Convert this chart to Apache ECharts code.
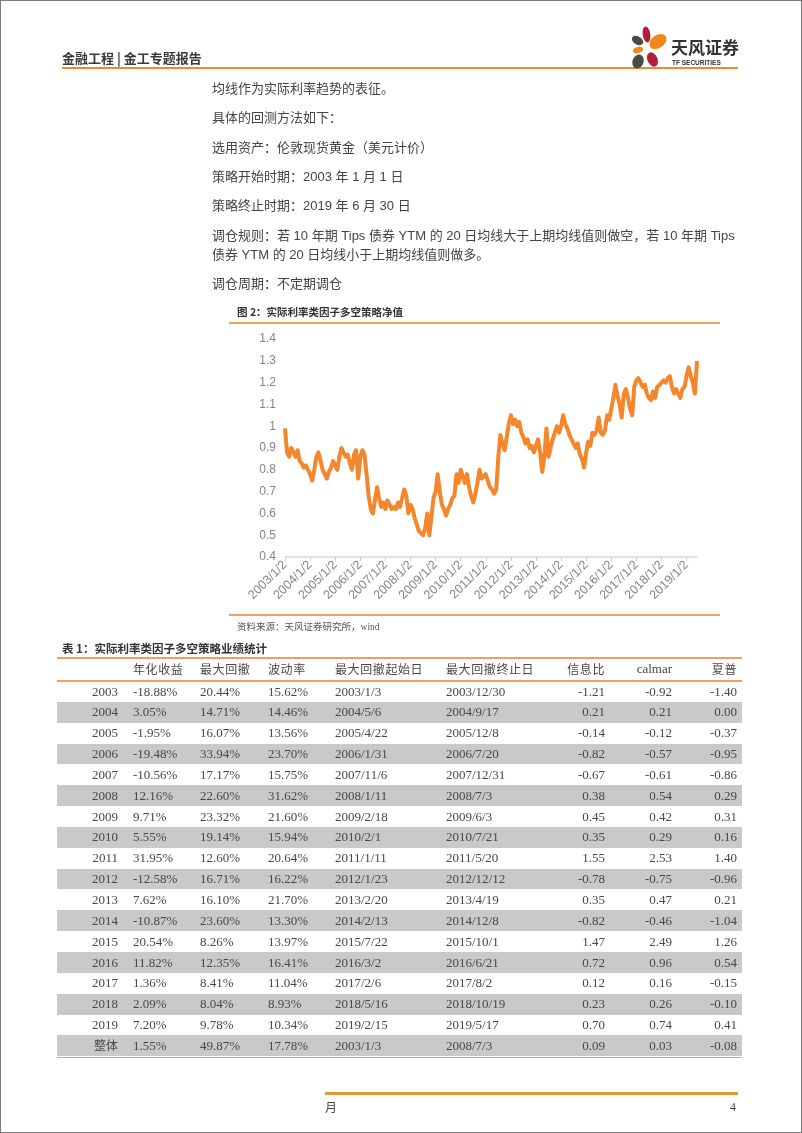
<!DOCTYPE html>
<html><head><meta charset="utf-8">
<script src="https://cdn.jsdelivr.net/npm/echarts@6/dist/echarts.min.js"></script>
<style>
html,body{margin:0;padding:0;background:#fff;}
#page{position:relative;width:802px;height:1133px;overflow:hidden;font-family:"Noto Sans CJK SC","Noto Sans",sans-serif;color:#404040;}
.abs{position:absolute;white-space:nowrap;}
.body{font-size:13px;line-height:18px;color:#444;left:212px;font-family:"Liberation Sans","Noto Sans CJK SC",sans-serif;}
.cell{position:absolute;white-space:nowrap;font-family:"Liberation Serif","Noto Sans CJK SC",serif;font-size:13px;color:#474747;line-height:20px;}
</style></head><body>
<div id="page">
<div id="chart" style="position:absolute;left:0;top:0;width:802px;height:1133px;"></div>
<div class="abs" style="left:0;top:0;width:800px;height:1131px;border:1px solid #7a7a7a;"></div>

<div class="abs" style="left:62px;top:49px;font-size:13px;font-weight:bold;color:#3a3a3a;line-height:18px;">金融工程 | 金工专题报告</div>
<div class="abs" style="left:62px;top:67px;width:676px;height:2px;background:#E98B2F;"></div>
<svg class="abs" style="left:0;top:0" width="802" height="80">
 <ellipse cx="646.5" cy="34.5" rx="3.8" ry="8" transform="rotate(-8 646.5 34.5)" fill="#B01E3C"/>
 <ellipse cx="637.5" cy="40.5" rx="6.2" ry="4" transform="rotate(30 637.5 40.5)" fill="#4a4a4a"/>
 <ellipse cx="658" cy="41.5" rx="9.5" ry="6.5" transform="rotate(-35 658 41.5)" fill="#F0891C"/>
 <ellipse cx="638" cy="50" rx="5.2" ry="3.2" transform="rotate(-15 638 50)" fill="#F0891C"/>
 <ellipse cx="638" cy="61.5" rx="5.5" ry="7.2" transform="rotate(20 638 61.5)" fill="#4a4a4a"/>
 <ellipse cx="652.5" cy="59.5" rx="5" ry="7.5" transform="rotate(-25 652.5 59.5)" fill="#B01E3C"/>
</svg>
<div class="abs" style="left:671px;top:36px;font-size:17px;font-weight:bold;color:#333;line-height:22px;">天风证券</div>
<div class="abs" style="left:672px;top:59px;font-size:6.5px;font-weight:bold;color:#333;line-height:8px;font-family:'Liberation Sans',sans-serif;">TF SECURITIES</div>

<div class="abs body" style="top:80px;">均线作为实际利率趋势的表征。</div>
<div class="abs body" style="top:109px;">具体的回测方法如下：</div>
<div class="abs body" style="top:139px;">选用资产：伦敦现货黄金（美元计价）</div>
<div class="abs body" style="top:168px;">策略开始时期：2003 年 1 月 1 日</div>
<div class="abs body" style="top:197px;">策略终止时期：2019 年 6 月 30 日</div>
<div class="abs body" style="top:227px;">调仓规则：若 10 年期 Tips 债券 YTM 的 20 日均线大于上期均线值则做空，若 10 年期 Tips</div>
<div class="abs body" style="top:246px;">债券 YTM 的 20 日均线小于上期均线值则做多。</div>
<div class="abs body" style="top:275px;">调仓周期：不定期调仓</div>

<div class="abs" style="left:237px;top:304px;font-size:10.5px;font-weight:bold;color:#333;line-height:16px;">图 2：实际利率类因子多空策略净值</div>
<div class="abs" style="left:229px;top:322px;width:491px;height:1.5px;background:#F2A05A;"></div>
<div class="abs" style="left:229px;top:614px;width:491px;height:1.5px;background:#F2A05A;"></div>
<div class="abs" style="left:237px;top:619px;font-size:9.5px;color:#555;line-height:14px;">资料来源：天风证券研究所，<span style="font-family:'Liberation Serif',serif">wind</span></div>

<div class="abs" style="left:62px;top:640px;font-size:11.5px;font-weight:bold;color:#333;line-height:16px;">表 1：实际利率类因子多空策略业绩统计</div>
<div id="table"></div>

<div class="abs" style="left:325px;top:1092px;width:413px;height:2.5px;background:#E6962E;"></div>
<div class="abs" style="left:325px;top:1099px;font-size:12px;color:#444;line-height:16px;">月</div>
<div class="abs" style="left:730px;top:1099px;font-size:12px;color:#444;line-height:16px;font-family:'Liberation Serif',serif;">4</div>
</div>

<script>
// ---- chart data (net value, monthly) ----
const nav2003 = [0.99, 0.88, 0.86, 0.90, 0.88, 0.86, 0.89, 0.84, 0.83, 0.81, 0.82, 0.80];
const nav2004 = [0.78, 0.75, 0.80, 0.86, 0.88, 0.84, 0.80, 0.78, 0.76, 0.79, 0.81, 0.84];
const nav2005 = [0.82, 0.80, 0.86, 0.90, 0.88, 0.86, 0.87, 0.83, 0.80, 0.87, 0.89, 0.76];
const nav2006 = [0.86, 0.89, 0.87, 0.78, 0.68, 0.62, 0.60, 0.66, 0.72, 0.67, 0.63, 0.65];
const nav2007 = [0.62, 0.66, 0.64, 0.62, 0.63, 0.62, 0.65, 0.63, 0.67, 0.71, 0.68, 0.60];
const nav2008 = [0.64, 0.62, 0.58, 0.55, 0.52, 0.51, 0.50, 0.53, 0.60, 0.50, 0.58, 0.67];
const nav2009 = [0.70, 0.78, 0.70, 0.64, 0.62, 0.59, 0.62, 0.64, 0.67, 0.68, 0.78, 0.74];
const nav2010 = [0.80, 0.77, 0.74, 0.78, 0.72, 0.68, 0.65, 0.69, 0.74, 0.80, 0.76, 0.77];
const nav2011 = [0.78, 0.75, 0.72, 0.71, 0.69, 0.71, 0.86, 0.96, 0.92, 0.89, 0.95, 1.01];
const nav2012 = [1.05, 1.01, 1.03, 1.00, 1.02, 0.97, 0.95, 0.92, 0.94, 0.90, 0.91, 0.88];
const nav2013 = [0.91, 0.94, 0.88, 0.79, 0.86, 0.99, 0.86, 0.90, 0.94, 0.97, 1.00, 0.97];
const nav2014 = [1.00, 1.05, 1.01, 0.99, 0.96, 0.94, 0.92, 0.90, 0.92, 0.87, 0.85, 0.81];
const nav2015 = [0.88, 0.93, 0.91, 0.97, 0.96, 0.98, 1.04, 0.97, 0.96, 0.98, 1.05, 1.03];
const nav2016 = [1.08, 1.13, 1.19, 1.14, 1.10, 1.04, 1.15, 1.17, 1.13, 1.08, 1.05, 1.18];
const nav2017 = [1.21, 1.22, 1.20, 1.18, 1.19, 1.15, 1.13, 1.12, 1.16, 1.13, 1.18, 1.19];
const nav2018 = [1.20, 1.21, 1.20, 1.22, 1.23, 1.18, 1.15, 1.17, 1.15, 1.13, 1.17, 1.18];
const nav2019 = [1.23, 1.27, 1.23, 1.20, 1.15, 1.30];
const years = [2003,2004,2005,2006,2007,2008,2009,2010,2011,2012,2013,2014,2015,2016,2017,2018,2019];
const yearNav = [nav2003,nav2004,nav2005,nav2006,nav2007,nav2008,nav2009,nav2010,nav2011,nav2012,nav2013,nav2014,nav2015,nav2016,nav2017,nav2018,nav2019];

// ---- table data ----
const tableHeaders = ['', '年化收益', '最大回撤', '波动率', '最大回撤起始日', '最大回撤终止日', '信息比', 'calmar', '夏普'];
const rowLabels = ['2003','2004','2005','2006','2007','2008','2009','2010','2011','2012','2013','2014','2015','2016','2017','2018','2019','整体'];
const annReturn = ['-18.88%','3.05%','-1.95%','-19.48%','-10.56%','12.16%','9.71%','5.55%','31.95%','-12.58%','7.62%','-10.87%','20.54%','11.82%','1.36%','2.09%','7.20%','1.55%'];
const maxDrawdown = ['20.44%','14.71%','16.07%','33.94%','17.17%','22.60%','23.32%','19.14%','12.60%','16.71%','16.10%','23.60%','8.26%','12.35%','8.41%','8.04%','9.78%','49.87%'];
const volatility = ['15.62%','14.46%','13.56%','23.70%','15.75%','31.62%','21.60%','15.94%','20.64%','16.22%','21.70%','13.30%','13.97%','16.41%','11.04%','8.93%','10.34%','17.78%'];
const ddStart = ['2003/1/3','2004/5/6','2005/4/22','2006/1/31','2007/11/6','2008/1/11','2009/2/18','2010/2/1','2011/1/11','2012/1/23','2013/2/20','2014/2/13','2015/7/22','2016/3/2','2017/2/6','2018/5/16','2019/2/15','2003/1/3'];
const ddEnd = ['2003/12/30','2004/9/17','2005/12/8','2006/7/20','2007/12/31','2008/7/3','2009/6/3','2010/7/21','2011/5/20','2012/12/12','2013/4/19','2014/12/8','2015/10/1','2016/6/21','2017/8/2','2018/10/19','2019/5/17','2008/7/3'];
const infoRatio = ['-1.21','0.21','-0.14','-0.82','-0.67','0.38','0.45','0.35','1.55','-0.78','0.35','-0.82','1.47','0.72','0.12','0.23','0.70','0.09'];
const calmarVals = ['-0.92','0.21','-0.12','-0.57','-0.61','0.54','0.42','0.29','2.53','-0.75','0.47','-0.46','2.49','0.96','0.16','0.26','0.74','0.03'];
const sharpeVals = ['-1.40','0.00','-0.37','-0.95','-0.86','0.29','0.31','0.16','1.40','-0.96','0.21','-1.04','1.26','0.54','-0.15','-0.10','0.41','-0.08'];

// build chart
const cats = [], vals = [];
years.forEach((y, i) => {
  yearNav[i].forEach((v, m) => { cats.push(y + '/' + (m + 1) + '/2'); vals.push(v); });
});

const chart = echarts.init(document.getElementById('chart'), null, {renderer: 'canvas'});
chart.setOption({
  animation: false,
  grid: {left: 285, top: 339, width: 412, height: 218, containLabel: false, outerBoundsMode: 'none'},
  xAxis: {
    type: 'category', data: cats, boundaryGap: false,
    axisLine: {lineStyle: {color: '#d9d9d9', width: 1.5}},
    axisTick: {interval: 11, length: 4, lineStyle: {color: '#d0d0d0'}},
    axisLabel: {interval: 11, rotate: 45, color: '#858585', fontSize: 12.5, fontFamily: 'Liberation Sans', margin: 6}
  },
  yAxis: {
    type: 'value', min: 0.4, max: 1.4, interval: 0.1,
    splitLine: {show: false}, axisLine: {show: false}, axisTick: {show: false},
    axisLabel: {color: '#858585', fontSize: 12, fontFamily: 'Liberation Sans', margin: 9,
      formatter: v => String(+v.toFixed(1))}
  },
  series: [{type: 'line', data: vals, symbol: 'none', showSymbol: false,
    lineStyle: {color: '#F5862B', width: 4, join: 'round'}}]
});

// build table
const tbl = document.getElementById('table');
function add(html, style) {
  const d = document.createElement('div');
  d.className = 'cell';
  d.innerHTML = html;
  Object.assign(d.style, style);
  tbl.appendChild(d);
}
function line(top) {
  const d = document.createElement('div');
  d.className = 'abs';
  Object.assign(d.style, {left: '57px', top: top + 'px', width: '685px', height: '1.5px', background: '#F0A058'});
  tbl.appendChild(d);
}
const colLeft = [null, 133, 200, 268, 335, 446, null, null, null];
const colRight = [118, null, null, null, null, null, 605, 672, 737];
const headerTop = 659;
const rowTop0 = 681, rowH = 20.85;
rowLabels.forEach((lab, i) => {
  if (i % 2 === 1) {
    const d = document.createElement('div');
    d.className = 'abs';
    Object.assign(d.style, {left: '57px', top: (rowTop0 + i * rowH) + 'px', width: '685px', height: rowH + 'px', background: '#c9c9c9'});
    tbl.appendChild(d);
  }
});
line(657); line(680); line(1056.5);
function place(text, c, top, extra) {
  const st = Object.assign({top: top + 'px'}, extra || {});
  if (colLeft[c] != null) st.left = colLeft[c] + 'px';
  else { st.right = (802 - colRight[c]) + 'px'; }
  add(text, st);
}
tableHeaders.forEach((h, c) => {
  if (!h) return;
  const ex = (c === 7) ? {fontFamily: "'Liberation Serif',serif", fontSize: '13px'} :
    {fontFamily: "'Noto Sans CJK SC',sans-serif", fontSize: '12px', letterSpacing: '0.6px'};
  place(h, c, headerTop, ex);
});
rowLabels.forEach((lab, i) => {
  const top = rowTop0 + i * rowH + 0.5;
  const cols = [lab, annReturn[i], maxDrawdown[i], volatility[i], ddStart[i], ddEnd[i], infoRatio[i], calmarVals[i], sharpeVals[i]];
  cols.forEach((t, c) => place(t, c, top, (c === 0 && i === rowLabels.length - 1) ? {fontSize: '12px'} : null));
});
</script>
</body></html>
